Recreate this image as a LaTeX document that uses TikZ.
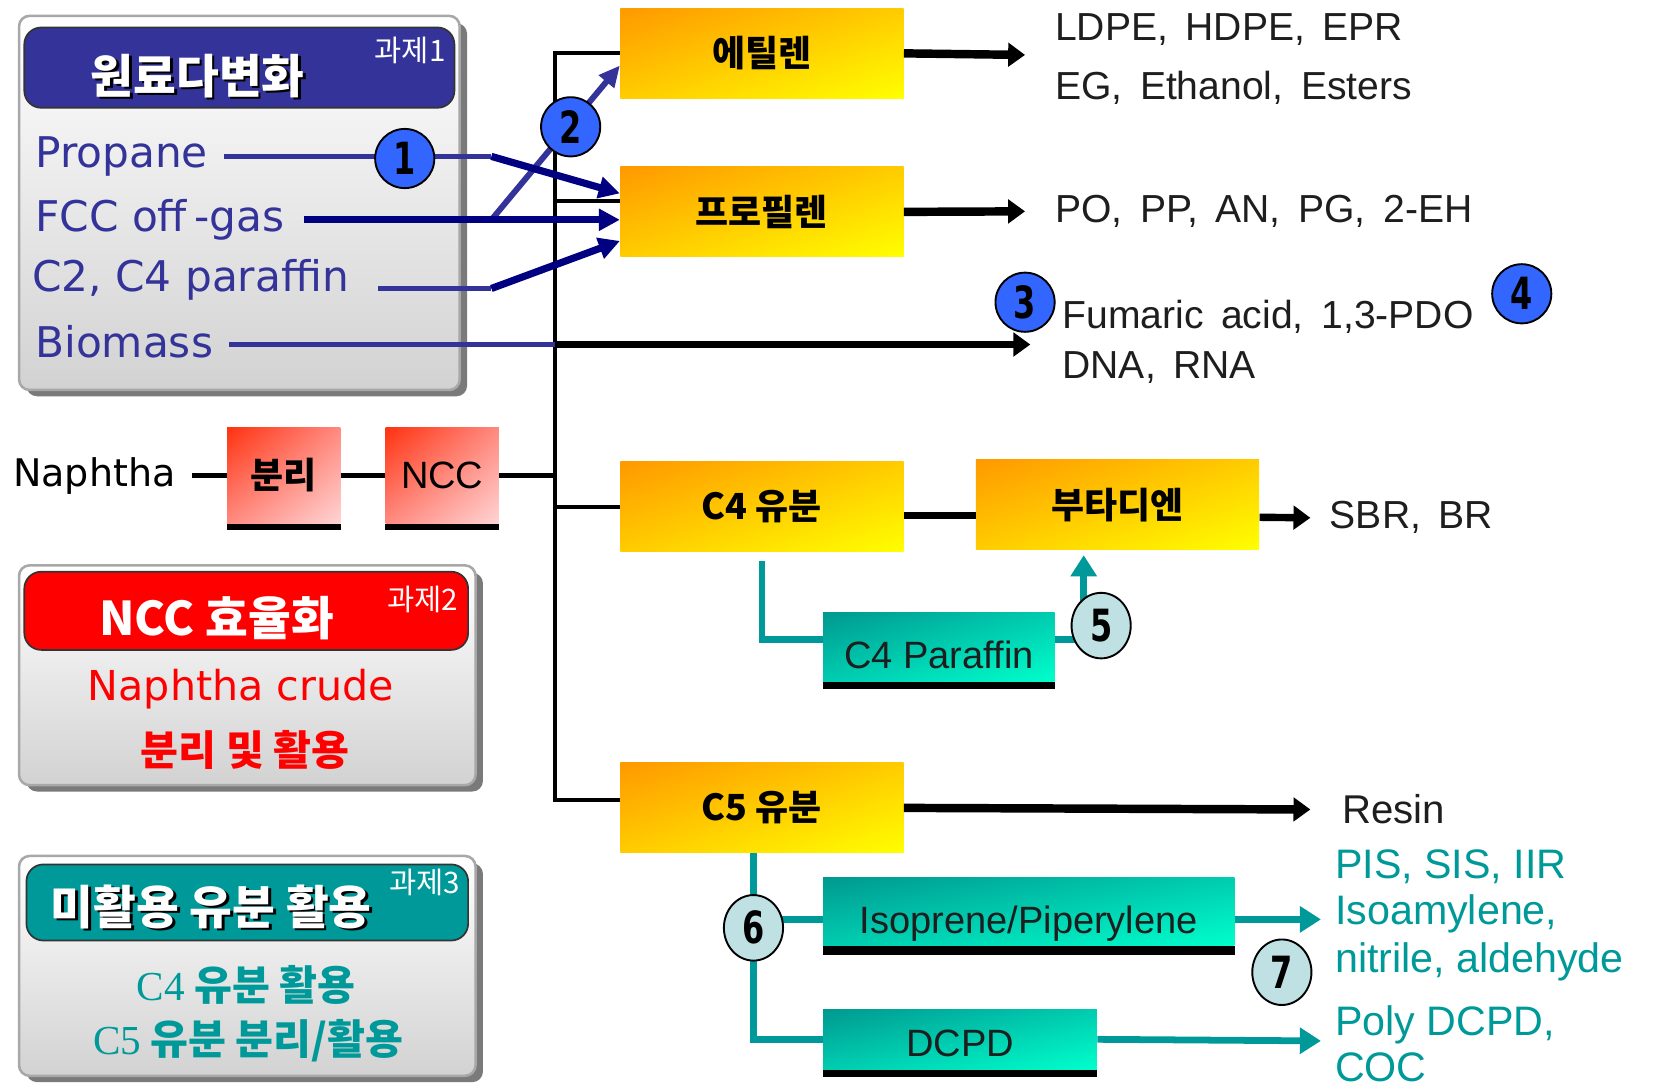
\documentclass[tikz,border=0pt]{standalone}
\usepackage{fontspec}
\setmainfont{DejaVu Sans}
\newfontfamily\lab{Liberation Sans}
\newfontfamily\plain{Liberation Sans}
\newfontfamily\kr{Noto Sans CJK KR}
\newfontfamily\numf{DejaVu Sans}[FakeStretch=0.72]
\newfontfamily\ser{Liberation Serif}
\usetikzlibrary{arrows.meta,shapes.geometric,shadings}
% wider word gaps for the product lists
\newcommand\widegaps{\spaceskip 0.45em\relax}

\definecolor{hdrBlue}{HTML}{333399}
\definecolor{navyLine}{HTML}{000080}
\definecolor{tealC}{HTML}{009999}
\definecolor{hdrRed}{HTML}{FF0000}
\definecolor{numBlue}{HTML}{3366FF}
\definecolor{numTeal}{HTML}{BFE1E3}
\definecolor{txtDark}{HTML}{1E1E1E}
\definecolor{yA}{HTML}{FF9900}
\definecolor{yB}{HTML}{FFCC00}
\definecolor{yC}{HTML}{FFFF00}
\definecolor{rA}{HTML}{FF3311}
\definecolor{rB}{HTML}{FF8A80}
\definecolor{rC}{HTML}{FFD4D4}
\definecolor{gA}{HTML}{009990}
\definecolor{gB}{HTML}{00CCB0}
\definecolor{gC}{HTML}{00FFCC}
\definecolor{shadowGray}{HTML}{7A7A7A}
\definecolor{panelEdge}{HTML}{A8A8A8}
\definecolor{panelLow}{HTML}{D2D2D2}

\begin{document}
\begin{tikzpicture}[x=0.5pt,y=-0.5pt,
  lbl/.style={font=\lab\fontsize{18.5}{21}\selectfont\widegaps, text=txtDark, anchor=west, inner sep=0pt},
  tlbl/.style={font=\lab\fontsize{19.5}{23}\selectfont, text=tealC, anchor=west, inner sep=0pt},
  feed/.style={font=\fontsize{20}{24}\selectfont, text=hdrBlue, anchor=west, inner sep=0pt},
  ybox/.style={shade, upper left=yA, upper right=yB, lower left=yB, lower right=yC,
    minimum width=134pt, minimum height=42.5pt, inner sep=0pt,
    font=\kr\bfseries\fontsize{17}{20}\selectfont},
  rbox/.style={shade, upper left=rA, upper right=rB, lower left=rB, lower right=rC,
    minimum width=53.5pt, minimum height=45pt, inner sep=0pt},
  gbox/.style={shade, upper left=gA, upper right=gB, lower left=gB, lower right=gC,
    minimum height=32.5pt, inner sep=0pt, text=txtDark, text height=20pt, text depth=0pt,
    font=\plain\fontsize{18}{20}\selectfont},
  bluenum/.style={circle, draw=black, line width=0.9pt, fill=numBlue, minimum size=28pt,
    inner sep=0pt, font=\numf\bfseries\fontsize{21}{21}\selectfont},
  tealnum/.style={ellipse, draw=black, line width=0.9pt, fill=numTeal, minimum width=28pt,
    minimum height=31pt, inner sep=0pt, font=\numf\bfseries\fontsize{21}{21}\selectfont},
  blkarrow/.style={line width=4pt, draw=black, -{Triangle[length=8pt,width=11pt]}},
  spine/.style={line width=2pt, draw=black},
  thinblk/.style={line width=2.2pt, draw=black},
  feedline/.style={line width=2.6pt, draw=hdrBlue},
  navyarrow/.style={line width=3.4pt, draw=navyLine, -{Triangle[length=10pt,width=10pt]}},
  lightarrow/.style={line width=2.8pt, draw=hdrBlue, -{Triangle[length=10pt,width=9pt]}},
  tealline/.style={line width=3pt, draw=tealC},
  tealarrow/.style={line width=3.2pt, draw=tealC, -{Triangle[length=10pt,width=12pt]}},
  hdrtext/.style={font=\kr\bfseries\fontsize{22}{24}\selectfont, inner sep=0pt},
  tag/.style={font=\kr\fontsize{14}{15}\selectfont, text=white, inner sep=0pt},
  subtext/.style={font=\kr\bfseries\fontsize{19.5}{22}\selectfont, inner sep=0pt},
  panelshadow/.style={fill=shadowGray, rounded corners=5pt},
  panelbody/.style={top color=white, bottom color=panelLow, draw=panelEdge, line width=1.2pt, rounded corners=5pt},
  panelhead/.style={draw=black!80, line width=0.8pt, rounded corners=8pt}
]
\useasboundingbox (0,0) rectangle (1568,1031);

% ---------- panel 1: feedstock diversification ----------
\fill[panelshadow] (25,22) rectangle (442,375);
\shade[panelbody] (18,15) rectangle (435,369);
\filldraw[panelhead, fill=hdrBlue] (23,26) rectangle (430,102);
\node[hdrtext, text=black] (h1s) at (189.5,74) {원료다변화};
\node[hdrtext, text=white] (h1) at (187,72) {원료다변화};
\node[tag] (tag1) at (388,48) {과제1};

\node[feed] (prop) at (33,148) {Propane};
\node[feed] (fcc) at (33,208) {FCC off\,-gas};
\node[feed] (c2) at (30,265) {C2, C4 paraffin};
\node[feed] (bio) at (33,323) {Biomass};

% ---------- panel 2: NCC efficiency ----------
\fill[panelshadow] (25,542) rectangle (457,749);
\shade[panelbody] (18,535) rectangle (450,743);
\filldraw[panelhead, fill=hdrRed] (23,541) rectangle (443,615);
\node[hdrtext, text=white] (h2) at (205,585) {NCC 효율화};
\node[tag] (tag2) at (400,567) {과제2};
\node[font=\fontsize{19.5}{22}\selectfont, text=hdrRed, inner sep=0pt] (nc) at (228,652) {Naphtha crude};
\node[subtext, text=hdrRed] (nc2) at (232,710) {분리 및 활용};

% ---------- panel 3: unused fractions ----------
\fill[panelshadow] (25,817) rectangle (457,1024);
\shade[panelbody] (18,810) rectangle (450,1018);
\filldraw[panelhead, fill=tealC] (25,818) rectangle (443,890);
\node[hdrtext, text=black] (h3s) at (202.5,860) {미활용 유분 활용};
\node[hdrtext, text=white] (h3) at (200,858) {미활용 유분 활용};
\node[tag] (tag3) at (402,835) {과제3};
\node[subtext, text=tealC] (u4) at (233,932) {{\ser\mdseries C4} 유분 활용};
\node[subtext, text=tealC] (u5) at (235,985) {{\ser\mdseries C5} 유분 분리/활용};

% ---------- process boxes ----------
\node[ybox] (eth) at (721,50.5) {에틸렌};
\node[ybox] (pro) at (721,200.5) {프로필렌};
\node[ybox] (c4) at (721,479.5) {C4 유분};
\node[ybox] (but) at (1057.5,477.5) {부타디엔};
\node[ybox] (c5) at (721,764.5) {C5 유분};

\node[rbox, font=\kr\bfseries\fontsize{17}{20}\selectfont] (sep) at (268.5,450) {분리};
\node[rbox, font=\plain\fontsize{18}{20}\selectfont] (ncc) at (418.5,450) {NCC};
\fill (sep.south west) rectangle ([yshift=-3pt]sep.south east);
\fill (ncc.south west) rectangle ([yshift=-3pt]ncc.south east);

\node[gbox, minimum width=109.5pt] (c4p) at (888.5,612.5) {C4 Paraffin};
\node[gbox, minimum width=194.5pt, text height=21pt] (iso) at (973.5,862.5) {Isoprene/Piperylene};
\node[gbox, minimum width=129.5pt, minimum height=28.5pt, text height=16pt] (dcpd) at (908.5,983.5) {DCPD};
\fill (c4p.south west) rectangle ([yshift=-3.5pt]c4p.south east);
\fill (iso.south west) rectangle ([yshift=-4pt]iso.south east);
\fill (dcpd.south west) rectangle ([yshift=-3.5pt]dcpd.south east);

\node[font=\fontsize{18}{21}\selectfont, text=black, anchor=west, inner sep=0pt] (naph) at (12,450) {Naphtha};

% ---------- product labels ----------
\node[lbl] (ldpe) at (998,28) {LDPE, HDPE, EPR};
\node[lbl] (eg) at (998,83) {EG, Ethanol, Esters};
\node[lbl] (po) at (998,200) {PO, PP, AN, PG, 2-EH};
\node[lbl] (fum) at (1005,300) {Fumaric acid, 1,3-PDO};
\node[lbl] (dna) at (1005,348) {DNA, RNA};
\node[lbl] (sbr) at (1258,490) {SBR, BR};
\node[lbl, font=\lab\fontsize{19}{21}\selectfont] (resin) at (1270,766) {Resin};
\node[tlbl] (pis) at (1263,820) {PIS, SIS, IIR};
\node[tlbl] (isoam) at (1263,865) {Isoamylene,};
\node[tlbl] (nit) at (1263,910) {nitrile, aldehyde};
\node[tlbl] (pdcpd) at (1263,970) {Poly DCPD,};
\node[tlbl] (coc) at (1263,1010) {COC};

% ---------- junction points ----------
\coordinate (sBot) at (525,757);
\coordinate (jP) at (525,190);
\coordinate (jB) at (525,326);
\coordinate (jN) at (525,450);
\coordinate (k1) at (465,148);
\coordinate (k2) at (465,208);
\coordinate (k3) at (465,273);
\coordinate (ethEnd) at (970,52);
\coordinate (proEnd) at (970,200);
\coordinate (bioEnd) at (975,326);
\coordinate (butEnd) at (1240,490);
\coordinate (c5End) at (1240,766);
\coordinate (j6) at (713,870);
\coordinate (isoEnd) at (1250,870);
\coordinate (dcpdEnd) at (1250,985);

% ---------- black trunk ----------
\draw[spine] (eth.west) -| (sBot) -- ([yshift=3.75pt]c5.west);
\draw[spine] (jP) -- ([yshift=5.25pt]pro.west);
\draw[spine] (c4.west) -- (c4.west -| sBot);
\draw[thinblk] ([xshift=7.5pt]naph.east) -- (sep.west);
\draw[thinblk] (sep.east) -- (ncc.west);
\draw[thinblk] (ncc.east) -- (jN);
\draw[thinblk, line width=3.5pt] ([yshift=-4.25pt]c4.east) -- ([yshift=-5.25pt]but.west);

% ---------- product arrows ----------
\draw[blkarrow] (eth.east) -- (ethEnd);
\draw[blkarrow] (pro.east) -- (proEnd);
\draw[blkarrow, line width=3.6pt] (jB) -- (bioEnd);
\draw[blkarrow, line width=3.5pt] ([yshift=-6pt]but.east) -- (butEnd);
\draw[blkarrow] (c5.east) -- (c5End);

% ---------- feedstock connectors ----------
\draw[feedline] ([xshift=7.5pt,yshift=-1.5pt]bio.east) -- (jB);
\draw[lightarrow] (k2) -- ([yshift=-5.75pt]eth.west);
\draw[feedline] ([xshift=7.5pt]prop.east) -- (k1);
\draw[navyarrow] (k1) -- ([yshift=8.75pt]pro.west);
\draw[navyarrow] ([xshift=9pt]fcc.east) -- ([yshift=-3.75pt]pro.west);
\draw[feedline] ([xshift=13.5pt,yshift=-4pt]c2.east) -- (k3);
\draw[navyarrow] (k3) -- ([yshift=-13.75pt]pro.west);

% ---------- C4 / C5 side streams ----------
\draw[tealline] ([yshift=-4pt]c4.south) |- ([yshift=3.75pt]c4p.west);
\draw[tealarrow] ([yshift=3.75pt]c4p.east) -| ([xshift=-16pt,yshift=-2.5pt]but.south);
\draw[tealline] ([xshift=-4pt]c5.south) |- (dcpd.west);
\draw[tealline] (j6) -- ([yshift=-3.75pt]iso.west);
\draw[tealarrow] ([yshift=-3.75pt]iso.east) -- (isoEnd);
\draw[tealarrow] (dcpd.east) -- (dcpdEnd);

% ---------- numbered markers ----------
\node[bluenum] (n1) at (383,150) {1};
\node[bluenum] (n2) at (540,120) {2};
\node[bluenum] (n3) at (970,286) {3};
\node[bluenum] (n4) at (1440,278) {4};
\node[tealnum] (n5) at (1042,592) {5};
\node[tealnum] (n6) at (713,878) {6};
\node[tealnum] (n7) at (1213,920) {7};
\end{tikzpicture}
\end{document}
